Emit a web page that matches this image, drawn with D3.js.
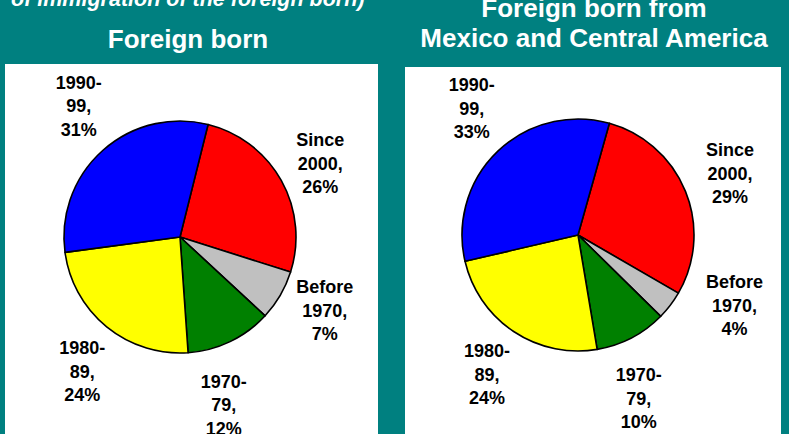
<!DOCTYPE html>
<html>
<head>
<meta charset="utf-8">
<script src="https://cdn.jsdelivr.net/npm/d3@7"></script>
<style>
  body { margin: 0; background: #008080; }
  #vis { width: 789px; height: 434px; overflow: hidden; }
  text { font-family: Arial, "Liberation Sans", sans-serif; font-weight: bold; }
</style>
</head>
<body>
<div id="vis"></div>
<script>
// data
var categories = ["Since 2000", "Before 1970", "1970-79", "1980-89", "1990-99"];
var labelLines = [["Since", "2000,"], ["Before", "1970,"], ["1970-", "79,"], ["1980-", "89,"], ["1990-", "99,"]];
var colours = ["#ff0000", "#c0c0c0", "#008000", "#ffff00", "#0000ff"];
var allForeignBorn = [26, 7, 12, 24, 31];
var mexicoCentral = [29, 4, 10, 24, 33];

var width = 789, height = 434;

var svg = d3.select('#vis')
  .append('svg')
  .attr('width', width)
  .attr('height', height);

svg.append('rect')
  .attr('width', width)
  .attr('height', height)
  .attr('fill', '#008080');

// cut off subtitle at the top
svg.append('text')
  .attr('x', 11)
  .attr('y', 6)
  .attr('fill', '#fff')
  .style('font-size', '21.5px')
  .style('font-style', 'italic')
  .text('of immigration of the foreign born)');

// label nudges are layout only (excel moved some labels around)
var panels = [
  { values: allForeignBorn, title: ["Foreign born"], titleX: 188, titleY: 48,
    box: [5, 64, 373, 380], cx: 180, cy: 237, start: 14,
    nudge: { "Since 2000": [-3, 6], "Before 1970": [3, -9], "1970-79": [-27, 20],
             "1980-89": [6, 7], "1990-99": [8, -9] } },
  { values: mexicoCentral, title: ["Foreign born from", "Mexico and Central America"], titleX: 594, titleY: 17,
    box: [405, 67, 376, 380], cx: 578, cy: 235, start: 15.7,
    nudge: { "Before 1970": [26, -29], "1970-79": [-15, 18], "1980-89": [0, 3],
             "1990-99": [7, -8] } }
];

var radius = 116;
var labelRadius = 164;
var lineHeight = 23.5;

panels.forEach(function(p) {
  svg.append('rect')
    .attr('x', p.box[0])
    .attr('y', p.box[1])
    .attr('width', p.box[2])
    .attr('height', p.box[3])
    .attr('fill', '#fff');

  svg.append('text')
    .attr('text-anchor', 'middle')
    .attr('fill', '#fff')
    .style('font-size', '26px')
    .selectAll('tspan')
    .data(p.title)
    .enter()
    .append('tspan')
    .attr('x', p.titleX)
    .attr('y', function(d, i) { return p.titleY + i * 30; })
    .text(function(d) { return d; });

  var startRad = p.start * Math.PI / 180;
  var pie = d3.pie()
    .sort(null)
    .value(function(d) { return d.value; })
    .startAngle(startRad)
    .endAngle(startRad + 2 * Math.PI);

  var rows = categories.map(function(c, i) {
    return { cat: c, value: p.values[i], colour: colours[i], lines: labelLines[i] };
  });

  var arc = d3.arc().innerRadius(0).outerRadius(radius);
  var labelArc = d3.arc().innerRadius(labelRadius).outerRadius(labelRadius);

  var g = svg.append('g')
    .attr('transform', 'translate(' + p.cx + ',' + p.cy + ')');

  g.selectAll('.slice')
    .data(pie(rows))
    .enter()
    .append('path')
    .attr('class', 'slice')
    .attr('d', arc)
    .attr('fill', function(d) { return d.data.colour; })
    .attr('stroke', '#000')
    .attr('stroke-width', 1.6)
    .attr('stroke-linejoin', 'round');

  var labels = g.selectAll('.label')
    .data(pie(rows))
    .enter()
    .append('text')
    .attr('class', 'label')
    .attr('text-anchor', 'middle')
    .attr('fill', '#000')
    .style('font-size', '18px');

  labels.each(function(d) {
    var c = labelArc.centroid(d);
    var n = p.nudge[d.data.cat] || [0, 0];
    var x = c[0] + n[0], y = c[1] + n[1];
    var lines = d.data.lines.concat([d.data.value + '%']);
    d3.select(this).selectAll('tspan')
      .data(lines)
      .enter()
      .append('tspan')
      .attr('x', x)
      .attr('y', function(t, i) { return y + 6.5 + (i - 1) * lineHeight; })
      .text(function(t) { return t; });
  });
});
</script>
</body>
</html>
